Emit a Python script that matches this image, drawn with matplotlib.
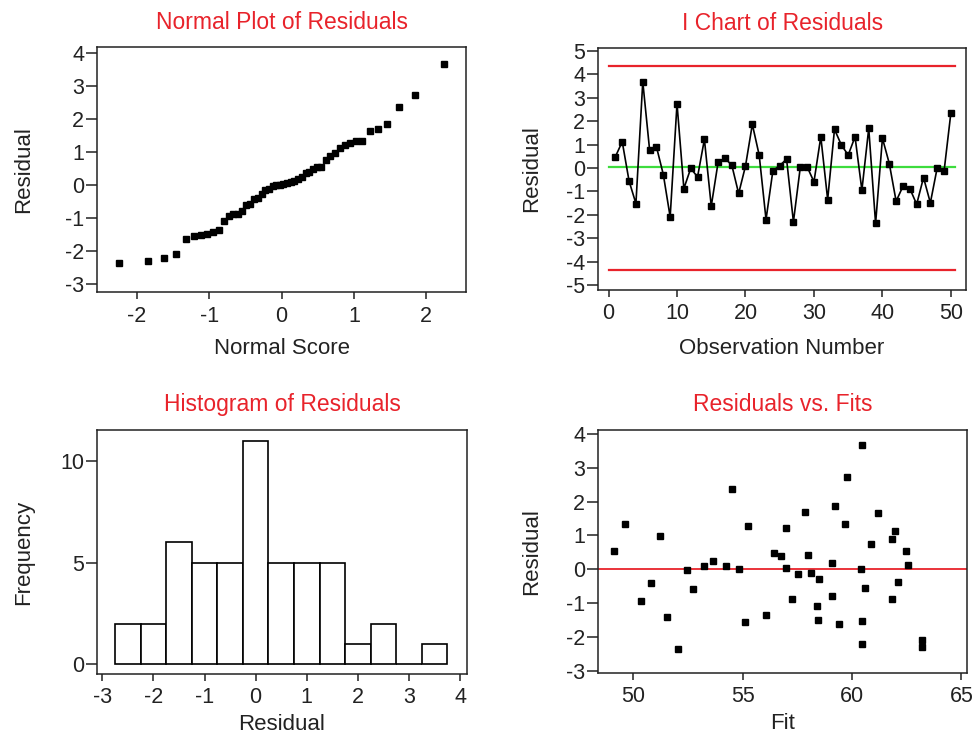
import matplotlib
matplotlib.use('Agg')
import matplotlib.pyplot as plt
import numpy as np
from statistics import NormalDist

plt.rcParams['font.family'] = ['Liberation Sans', 'DejaVu Sans']
plt.rcParams['axes.unicode_minus'] = False

# residuals in observation order
residuals = [0.48, 1.12, -0.56, -1.52, 3.68, 0.76, 0.90, -0.28, -2.09, 2.74,
             -0.88, -0.02, -0.38, 1.22, -1.63, 0.24, 0.41, 0.12, -1.09, 0.08,
             1.86, 0.55, -2.20, -0.12, 0.10, 0.38, -2.30, 0.02, 0.05, -0.59,
             1.33, -1.35, 1.65, 0.98, 0.55, 1.33, -0.95, 1.69, -2.37, 1.27,
             0.19, -1.42, -0.78, -0.88, -1.55, -0.41, -1.49, 0.01, -0.14, 2.36]

# fitted values, same order
fits = [56.44, 61.95, 60.58, 60.47, 60.47, 60.88, 61.83, 58.48, 63.21, 59.79,
        57.26, 52.44, 62.10, 57.00, 59.39, 53.65, 57.99, 62.56, 58.40, 53.23,
        59.21, 62.48, 60.47, 58.11, 54.22, 56.73, 63.21, 54.84, 57.00, 52.74,
        49.62, 56.06, 61.19, 51.22, 49.13, 59.67, 50.34, 57.87, 52.03, 55.25,
        59.06, 51.52, 59.06, 61.83, 55.10, 50.81, 58.45, 60.43, 57.53, 54.52]

ucl = 4.36
lcl = -4.36
hist_edges = [-2.75, -2.25, -1.75, -1.25, -0.75, -0.25, 0.25, 0.75, 1.25,
              1.75, 2.25, 2.75, 3.25, 3.75]

res = np.array(residuals)
n = len(res)
obs = np.arange(1, n + 1)

# normal scores (Blom)
order = np.argsort(res)
ranks = np.empty(n)
ranks[order] = np.arange(1, n + 1)
nd = NormalDist()
scores = np.array([nd.inv_cdf((r - 0.375) / (n + 0.25)) for r in ranks])

RED = '#e8232b'
INK = '#222222'
TSIZE = 16.5
LSIZE = 16
KSIZE = 15.5

fig = plt.figure(figsize=(9.72, 7.38), dpi=100)


def style(ax):
    for s in ax.spines.values():
        s.set_linewidth(1.1)
        s.set_color(INK)
    ax.tick_params(axis='y', length=8, width=1.1, pad=1.5, labelsize=KSIZE, colors=INK)
    ax.tick_params(axis='x', length=5, width=1.1, pad=4.5, labelsize=KSIZE, colors=INK)


# Normal plot
ax1 = fig.add_axes([0.1001, 0.6039, 0.3793, 0.3328])
ax1.plot(scores, res, 's', color='black', ms=5)
ax1.set_xlim(-2.55, 2.55)
ax1.set_ylim(-3.25, 4.2)
ax1.set_xticks([-2, -1, 0, 1, 2])
ax1.set_yticks(range(-3, 5))
ax1.set_title('Normal Plot of Residuals', color=RED, fontsize=TSIZE, pad=13)
ax1.set_xlabel('Normal Score', fontsize=LSIZE, color=INK, labelpad=8)
ax1.set_ylabel('Residual', fontsize=LSIZE, color=INK)
ax1.yaxis.set_label_coords(-0.17, 0.5)
style(ax1)

# I chart
ax2 = fig.add_axes([0.6155, 0.6070, 0.3783, 0.3283])
ax2.axhline(ucl, xmin=0.03, xmax=0.97, color=RED, lw=1.6)
ax2.axhline(lcl, xmin=0.03, xmax=0.97, color=RED, lw=1.6)
ax2.axhline(res.mean(), xmin=0.03, xmax=0.97, color='#3ddc3d', lw=1.6)
ax2.plot(obs, res, '-s', color='black', lw=1.2, ms=5)
ax2.set_xlim(-1.5, 52.2)
ax2.set_ylim(-5.21, 5.13)
ax2.set_xticks(range(0, 51, 10))
ax2.set_yticks(range(-5, 6))
ax2.set_title('I Chart of Residuals', color=RED, fontsize=TSIZE, pad=13)
ax2.set_xlabel('Observation Number', fontsize=LSIZE, color=INK, labelpad=10)
ax2.set_ylabel('Residual', fontsize=LSIZE, color=INK)
ax2.yaxis.set_label_coords(-0.152, 0.5)
style(ax2)

# Histogram
ax3 = fig.add_axes([0.1001, 0.0867, 0.3800, 0.3306])
ax3.hist(res, bins=hist_edges, facecolor='white', edgecolor='black', linewidth=1.2)
ax3.set_xlim(-3.1, 4.13)
ax3.set_ylim(-0.48, 11.53)
ax3.set_xticks(range(-3, 5))
ax3.set_yticks([0, 5, 10])
ax3.set_title('Histogram of Residuals', color=RED, fontsize=TSIZE, pad=14)
ax3.set_xlabel('Residual', fontsize=LSIZE, color=INK, labelpad=4)
ax3.set_ylabel('Frequency', fontsize=LSIZE, color=INK)
ax3.yaxis.set_label_coords(-0.17, 0.5)
style(ax3)

# Residuals vs fits
ax4 = fig.add_axes([0.6155, 0.0877, 0.3793, 0.3297])
ax4.axhline(0, color=RED, lw=1.3)
ax4.plot(fits, res, 's', color='black', ms=5)
ax4.set_xlim(48.4, 65.25)
ax4.set_ylim(-3.08, 4.12)
ax4.set_xticks([50, 55, 60, 65])
ax4.set_yticks(range(-3, 5))
ax4.set_title('Residuals vs. Fits', color=RED, fontsize=TSIZE, pad=14)
ax4.set_xlabel('Fit', fontsize=LSIZE, color=INK, labelpad=4)
ax4.set_ylabel('Residual', fontsize=LSIZE, color=INK)
ax4.yaxis.set_label_coords(-0.152, 0.5)
style(ax4)

fig.savefig('out.png', dpi=100)
